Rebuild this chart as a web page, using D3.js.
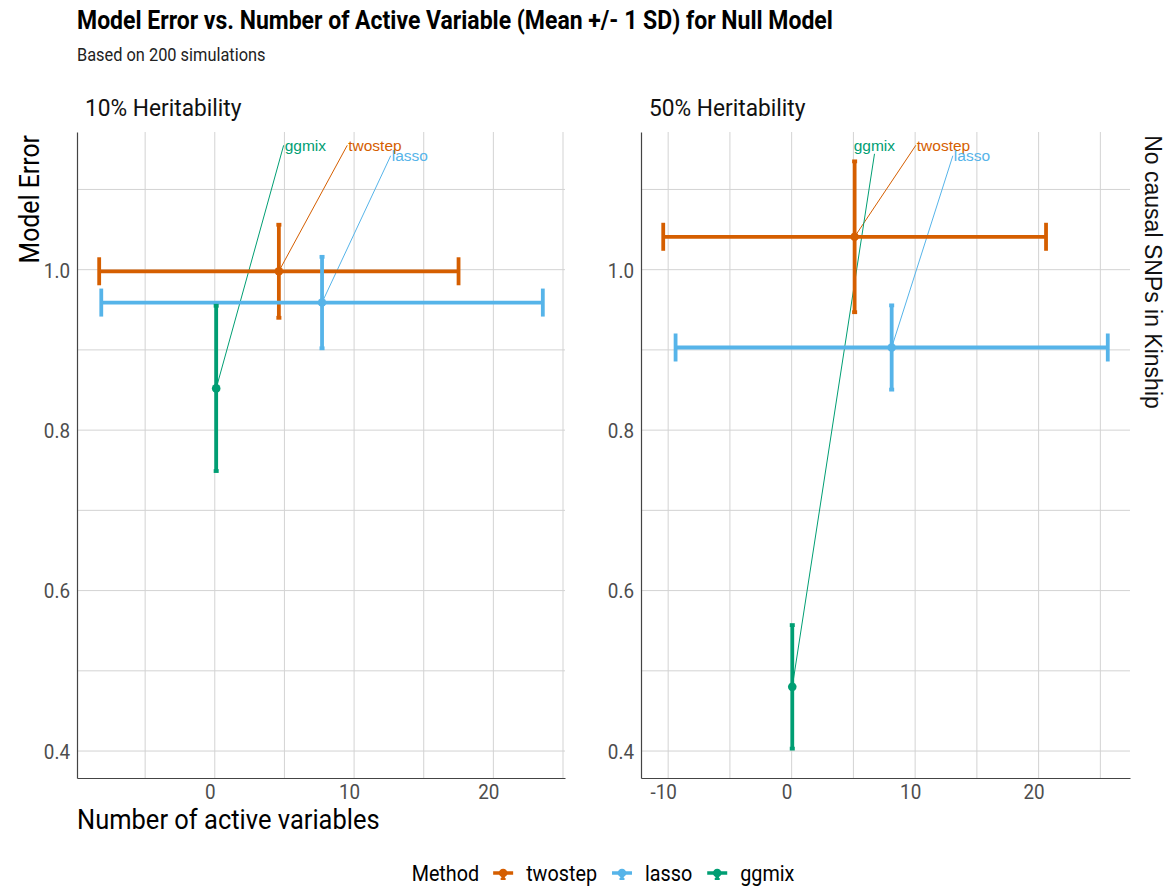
<!DOCTYPE html>
<html>
<head>
<meta charset="utf-8">
<script src="https://cdn.jsdelivr.net/npm/d3@7"></script>
<style>
body { margin: 0; background: #fff; }
</style>
</head>
<body>
<svg id="chart"></svg>
<script>
var width = 1169;
var height = 888;

var methods = ["twostep", "lasso", "ggmix"];
var colors = ["#D55E00", "#56B4E9", "#009E73"];
var panels = ["10% Heritability", "50% Heritability"];
var rowStrip = "No causal SNPs in Kinship";

// number of active variables (mean, sd), one row per panel, methods in order above
var activeMean = [[4.6, 7.7, 0.1], [5.1, 8.1, 0.05]];
var activeSd = [[12.9, 15.85, 0.2], [15.5, 17.5, 0.2]];
// model error (mean, sd)
var errorMean = [[0.998, 0.959, 0.852], [1.041, 0.903, 0.480]];
var errorSd = [[0.058, 0.057, 0.103], [0.094, 0.0525, 0.077]];
// where the repelled method labels ended up (data units)
var labelX = [[11.5, 14.0, 6.5], [12.3, 14.6, 6.7]];
var labelY = [[1.155, 1.142, 1.155], [1.155, 1.142, 1.155]];

var yTicks = [0.4, 0.6, 0.8, 1.0];
var xTicks = [[0, 10, 20], [-10, 0, 10, 20]];

var FONT = "Roboto, 'Noto Sans', sans-serif";
var ARIAL = "'Liberation Sans', Arial, sans-serif";
var SX = 0.92; // squeeze Roboto to look like Roboto Condensed

var panelTop = 132, panelBottom = 778;
var boxes = [{left: 77, right: 565}, {left: 641, right: 1130}];

var svg = d3.select("#chart")
    .attr("width", width)
    .attr("height", height)
    .style("font-family", FONT);

function ctext(g, x, y, txt, size, anchor) {
    return g.append("text")
        .attr("transform", "translate(" + x + "," + y + ") scale(" + SX + ",1)")
        .attr("text-anchor", anchor || "start")
        .style("font-size", size + "px")
        .text(txt);
}

// shared y scale, ggplot style 5% expansion
var lo = d3.min(errorMean, function(r, p){ return d3.min(r, function(m, i){ return m - errorSd[p][i]; }); });
var hi = d3.max(errorMean, function(r, p){ return d3.max(r, function(m, i){ return m + errorSd[p][i]; }); });
var yscale = d3.scaleLinear()
    .domain([lo - (hi - lo) * 0.05, hi + (hi - lo) * 0.05])
    .range([panelBottom, panelTop]);

// titles
ctext(svg, 77, 29, "Model Error vs. Number of Active Variable (Mean +/- 1 SD) for Null Model", 25)
    .style("font-weight", "bold");
ctext(svg, 77, 61, "Based on 200 simulations", 17.8).style("fill", "#222");

panels.forEach(function(name, p){
    var box = boxes[p];
    var xlo = d3.min(activeMean[p], function(m, i){ return m - activeSd[p][i]; });
    var xhi = d3.max(activeMean[p], function(m, i){ return m + activeSd[p][i]; });
    var xscale = d3.scaleLinear()
        .domain([xlo - (xhi - xlo) * 0.05, xhi + (xhi - xlo) * 0.05])
        .range([box.left, box.right]);
    var g = svg.append("g");

    // grid
    var xd = xscale.domain(), yd = yscale.domain();
    var xg = d3.range(Math.ceil(xd[0] / 5) * 5, xd[1], 5);
    var yg = d3.range(Math.ceil(yd[0] * 10), yd[1] * 10).map(function(v){ return v / 10; });
    g.selectAll(".vg").data(xg).enter().append("line")
        .attr("x1", function(d){ return xscale(d); })
        .attr("x2", function(d){ return xscale(d); })
        .attr("y1", panelTop).attr("y2", panelBottom)
        .attr("stroke", "#d3d3d3").attr("stroke-width", 1);
    g.selectAll(".hg").data(yg).enter().append("line")
        .attr("x1", box.left).attr("x2", box.right)
        .attr("y1", function(d){ return yscale(d); })
        .attr("y2", function(d){ return yscale(d); })
        .attr("stroke", "#d3d3d3").attr("stroke-width", 1);

    // axes
    var xa = g.append("g")
        .attr("transform", "translate(0," + panelBottom + ")")
        .call(d3.axisBottom(xscale).tickValues(xTicks[p]).tickSize(0).tickSizeOuter(0).tickPadding(6)
            .tickFormat(function(d){ return String(d); }));
    var ya = g.append("g")
        .attr("transform", "translate(" + box.left + ",0)")
        .call(d3.axisLeft(yscale).tickValues(yTicks).tickSize(0).tickSizeOuter(0).tickPadding(7).tickFormat(d3.format(".1f")));
    [xa, ya].forEach(function(a){
        a.select(".domain").attr("stroke", "#444").attr("stroke-width", 1.2);
        a.selectAll("text")
            .style("font-family", FONT).style("font-size", "20.5px").attr("fill", "#4d4d4d");
    });
    xa.selectAll("text").attr("transform", "translate(-5,0) scale(" + SX + ",1)");
    ya.selectAll("text").attr("x", -7 / SX).attr("dy", "0.36em").attr("transform", "scale(" + SX + ",1)");

    // strip
    ctext(svg, box.left + 8, 116, name, 24.7).style("fill", "#111");

    // error bars and points
    var segs = g.append("g"), labs = g.append("g");
    methods.forEach(function(m, i){
        var cx = xscale(activeMean[p][i]), cy = yscale(errorMean[p][i]);
        var col = colors[i];
        var x0 = xscale(activeMean[p][i] - activeSd[p][i]), x1 = xscale(activeMean[p][i] + activeSd[p][i]);
        var y0 = yscale(errorMean[p][i] - errorSd[p][i]), y1 = yscale(errorMean[p][i] + errorSd[p][i]);
        var eb = g.append("g").attr("stroke", col).attr("stroke-width", 3.8);
        eb.append("line").attr("x1", cx).attr("x2", cx).attr("y1", y0).attr("y2", y1);
        eb.append("line").attr("x1", cx - 2.5).attr("x2", cx + 2.5).attr("y1", y0).attr("y2", y0);
        eb.append("line").attr("x1", cx - 2.5).attr("x2", cx + 2.5).attr("y1", y1).attr("y2", y1);
        if (x1 - x0 > 8) {
            eb.append("line").attr("x1", x0).attr("x2", x1).attr("y1", cy).attr("y2", cy);
            eb.append("line").attr("x1", x0).attr("x2", x0).attr("y1", cy - 14).attr("y2", cy + 14);
            eb.append("line").attr("x1", x1).attr("x2", x1).attr("y1", cy - 14).attr("y2", cy + 14);
        }
        g.append("circle").attr("cx", cx).attr("cy", cy).attr("r", 4.3).attr("fill", col);

        // repelled label: segment meets the label side, or its bottom when nearly vertical
        var t = labs.append("text")
            .attr("x", xscale(labelX[p][i])).attr("y", yscale(labelY[p][i]))
            .attr("text-anchor", "middle").attr("dominant-baseline", "central")
            .style("font-family", ARIAL).style("font-size", "15.5px")
            .attr("fill", col).text(m);
        var b = t.node().getBBox();
        var bcx = b.x + b.width / 2, bcy = b.y + b.height / 2;
        var end;
        if (Math.abs(bcx - cx) < 0.25 * Math.abs(bcy - cy)) {
            end = [bcx, cy > bcy ? b.y + b.height : b.y];
        } else {
            end = [cx < bcx ? b.x - 1 : b.x + b.width + 1, bcy];
        }
        segs.append("line")
            .attr("x1", cx).attr("y1", cy).attr("x2", end[0]).attr("y2", end[1])
            .attr("stroke", col).attr("stroke-width", 1);
    });
    labs.raise();
});

// row strip on the right
svg.append("text")
    .attr("transform", "translate(1145,272) rotate(90)")
    .attr("text-anchor", "middle")
    .style("font-family", ARIAL).style("font-size", "23px")
    .attr("fill", "#111")
    .text(rowStrip);

// axis titles
ctext(svg, 77, 829, "Number of active variables", 27.7);
svg.append("text")
    .attr("transform", "translate(39,135) rotate(-90) scale(" + SX + ",1)")
    .attr("text-anchor", "end")
    .style("font-size", "27px")
    .text("Model Error");

// legend
var leg = svg.append("g");
var lx = 0, ly = 873;
var lt = ctext(leg, lx, ly + 7.5, "Method", 21.5);
lx += lt.node().getBBox().width * SX + 14;
methods.forEach(function(m, i){
    var k = leg.append("g").attr("transform", "translate(" + (lx + 10) + "," + ly + ")")
        .attr("stroke", colors[i]).attr("fill", colors[i]);
    k.append("line").attr("x1", -10).attr("x2", 10).attr("stroke-width", 3.5);
    k.append("line").attr("y1", 0).attr("y2", 6).attr("stroke-width", 3.5);
    k.append("line").attr("x1", -2.5).attr("x2", 2.5).attr("y1", 6).attr("y2", 6).attr("stroke-width", 2);
    k.append("circle").attr("r", 4.3).attr("stroke", "none");
    lx += 20 + 13;
    var tt = ctext(leg, lx, ly + 7.5, m, 21.5);
    lx += tt.node().getBBox().width * SX + 15;
});
leg.attr("transform", "translate(" + (603 - (lx - 15) / 2) + ",0)");
</script>
</body>
</html>
